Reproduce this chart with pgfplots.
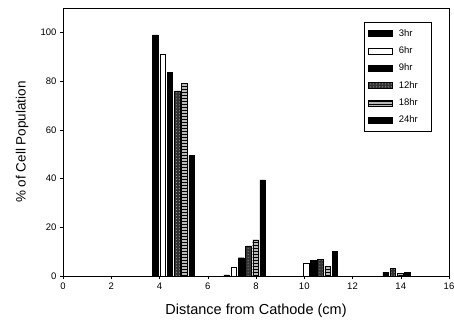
\documentclass[border=0pt]{standalone}
\usepackage{fontspec}
\setmainfont{Liberation Sans}
\usepackage{pgfplots}
\pgfplotsset{compat=1.18}
\usetikzlibrary{patterns}
\newcommand{\legtxt}[1]{\hspace{4bp}\makebox[26bp][l]{#1}}
\begin{document}
\begin{tikzpicture}
\begin{axis}[
  name=ax,
  scale only axis,
  width=386bp, height=268bp,
  xmin=0, xmax=16, ymin=0, ymax=110,
  xtick={0,2,...,16}, ytick={0,20,...,100},
  tick align=outside,
  xtick pos=bottom, ytick pos=left,
  major tick length=3bp,
  tick style={black, line width=0.5pt},
  axis line style={line width=0.6pt},
  ticklabel style={font=\fontsize{9.5bp}{11bp}\selectfont},
  /pgf/number format/assume math mode=true,
  xlabel={Distance from Cathode (cm)},
  ylabel={\% of Cell Population},
  xlabel style={font=\fontsize{14.5bp}{16bp}\selectfont, at={(axis description cs:0.5,-0.131)}, anchor=center},
  ylabel style={font=\fontsize{13.5bp}{16bp}\selectfont, at={(axis description cs:-0.106,0.5)}, anchor=center},
  ybar, bar shift=0pt, bar width=0.23,
  legend style={at={(0.78,0.948)}, anchor=north west, draw=black, line width=0.6pt,
    font=\fontsize{9.5bp}{11bp}\selectfont, row sep=5bp, inner xsep=4bp, inner ysep=5bp,
    legend cell align=left},
  legend image code/.code={\draw[#1, line width=0.5pt] (0cm,-3bp) rectangle (24bp,3bp);},
]
\addplot[draw=black, fill=black] coordinates {(3.83,99) (6.78,0.5)};
\addlegendentry{\legtxt{3hr}}
\addplot[draw=black, fill=white] coordinates {(4.13,91) (7.08,3.6) (10.07,5.2)};
\addlegendentry{\legtxt{6hr}}
\addplot[draw=black, fill=black] coordinates {(4.43,83.5) (7.38,7.5) (10.37,6.3) (13.37,1.6)};
\addlegendentry{\legtxt{9hr}}
\addplot[draw=black, fill=black!80, postaction={pattern=dots, pattern color=gray!60}] coordinates {(4.73,76) (7.68,12.4) (10.67,6.8) (13.67,3.0)};
\addlegendentry{\legtxt{12hr}}
\addplot[draw=black, fill=gray!55, postaction={pattern=horizontal lines, pattern color=black}] coordinates {(5.03,79) (7.98,14.8) (10.97,4.1) (13.97,1.1)};
\addlegendentry{\legtxt{18hr}}
\addplot[draw=black, fill=black] coordinates {(5.33,49.5) (8.28,39.5) (11.27,10) (14.27,1.5)};
\addlegendentry{\legtxt{24hr}}
\end{axis}
\pgfresetboundingbox
\path ([xshift=-63bp,yshift=-53bp]ax.south west) rectangle ([xshift=5bp,yshift=8bp]ax.north east);
\end{tikzpicture}
\end{document}
